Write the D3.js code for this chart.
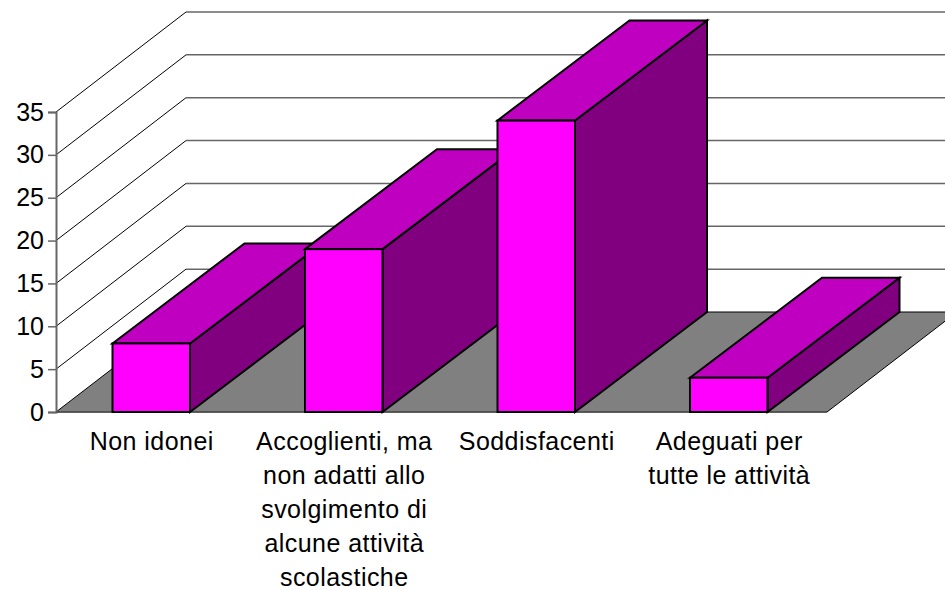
<!DOCTYPE html>
<html>
<head>
<meta charset="utf-8">
<script src="https://cdn.jsdelivr.net/npm/d3@7"></script>
<style>
  html, body { margin: 0; padding: 0; background: #fff; }
  svg { display: block; }
  text { font-family: "Liberation Sans", Arial, sans-serif; fill: #000; }
</style>
</head>
<body>
<svg id="chart" width="945" height="590"></svg>
<script>
// values
var categories = ["Non idonei", "Accoglienti", "Soddisfacenti", "Adeguati"];
var values = [8, 19, 34, 4];
var tickValues = [0, 5, 10, 15, 20, 25, 30, 35];
var labelLines = [
    ["Non idonei"],
    ["Accoglienti, ma", "non adatti allo", "svolgimento di", "alcune attività", "scolastiche"],
    ["Soddisfacenti"],
    ["Adeguati per", "tutte le attività"]
];

var svg = d3.select("#chart");

// how far the back of the box is shifted from the front
var depthX = 130, depthY = 100, barDepthX = 132;
var left = 56, floorRight = 827, bottom = 412, top35 = 112;

var x = d3.scaleBand()
    .domain(categories)
    .range([55, 825])
    .paddingInner(0.5974)
    .paddingOuter(0.2987);

var y = d3.scaleLinear()
    .domain([0, 35])
    .range([bottom, top35]);

function poly(pts) {
    var p = d3.path();
    pts.forEach(function(d, i) { i ? p.lineTo(d[0], d[1]) : p.moveTo(d[0], d[1]); });
    p.closePath();
    return p.toString();
}

// gridlines: up the side wall, then along the back wall
svg.selectAll(".grid")
    .data(tickValues.slice(1))
    .enter()
    .append("g")
    .attr("class", "grid")
    .each(function(d) {
        var g = d3.select(this);
        g.append("line")
            .attr("x1", left).attr("y1", y(d))
            .attr("x2", left + depthX).attr("y2", y(d) - depthY)
            .attr("stroke", "#000").attr("stroke-width", 1);
        g.append("line")
            .attr("x1", left + depthX).attr("y1", y(d) - depthY)
            .attr("x2", 945).attr("y2", y(d) - depthY)
            .attr("stroke", "#666").attr("stroke-width", 1.5);
    });

// floor
svg.append("path")
    .attr("d", poly([
        [left, y(0)],
        [left + depthX, y(0) - depthY],
        [floorRight + depthX, y(0) - depthY],
        [floorRight, y(0)]
    ]))
    .attr("fill", "#808080")
    .attr("stroke", "#000")
    .attr("stroke-width", 1);

// y axis
var yAxis = d3.axisLeft(y)
    .tickValues(tickValues)
    .tickSize(8)
    .tickPadding(4);

var axisG = svg.append("g")
    .attr("transform", "translate(" + left + ",0)")
    .call(yAxis);
axisG.select(".domain").attr("stroke", "#666").attr("stroke-width", 2);
axisG.selectAll(".tick line").attr("stroke", "#666").attr("stroke-width", 1.5);
axisG.selectAll(".tick text")
    .style("font-family", '"Liberation Sans", Arial, sans-serif')
    .style("font-size", "25px")
    .attr("fill", "#000");

svg.append("line")
    .attr("x1", left).attr("y1", y(0))
    .attr("x2", floorRight).attr("y2", y(0))
    .attr("stroke", "#555").attr("stroke-width", 1.5);

// bars, left to right so each one covers the side of the one before
var bars = svg.selectAll(".bar")
    .data(categories)
    .enter()
    .append("g")
    .attr("class", "bar");

function barBox(d, i) {
    return { x0: x(d), x1: x(d) + x.bandwidth(), top: y(values[i]), base: y(0) };
}

bars.append("path")
    .attr("d", function(d, i) {
        var b = barBox(d, i);
        return poly([[b.x1, b.top], [b.x1 + barDepthX, b.top - depthY], [b.x1 + barDepthX, b.base - depthY], [b.x1, b.base]]);
    })
    .attr("fill", "#800080");

bars.append("path")
    .attr("d", function(d, i) {
        var b = barBox(d, i);
        return poly([[b.x0, b.top], [b.x0 + barDepthX, b.top - depthY], [b.x1 + barDepthX, b.top - depthY], [b.x1, b.top]]);
    })
    .attr("fill", "#C000C0");

bars.append("rect")
    .attr("x", function(d) { return x(d); })
    .attr("y", function(d, i) { return y(values[i]); })
    .attr("width", x.bandwidth())
    .attr("height", function(d, i) { return y(0) - y(values[i]); })
    .attr("fill", "#FF00FF");

bars.selectAll("path, rect")
    .attr("stroke", "#000")
    .attr("stroke-width", 2)
    .attr("stroke-linejoin", "miter");

// category labels
svg.selectAll(".catLabel")
    .data(categories)
    .enter()
    .append("text")
    .attr("class", "catLabel")
    .attr("text-anchor", "middle")
    .style("font-size", "25px")
    .style("letter-spacing", "0.45px")
    .each(function(d, i) {
        d3.select(this).selectAll("tspan")
            .data(labelLines[i])
            .enter()
            .append("tspan")
            .attr("x", x(d) + x.bandwidth() / 2 + 0.5)
            .attr("y", function(s, j) { return 450 + j * 34; })
            .text(function(s) { return s; });
    });
</script>
</body>
</html>
